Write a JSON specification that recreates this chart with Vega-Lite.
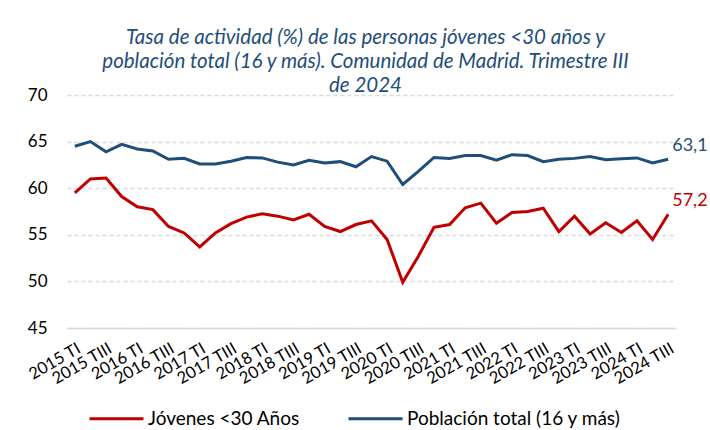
{
  "$schema": "https://vega.github.io/schema/vega-lite/v6.json",
  "autosize": "none",
  "width": 609,
  "height": 233,
  "padding": {"left": 67, "top": 95, "right": 34, "bottom": 102},
  "background": "white",
  "config": {
    "font": "Lato",
    "view": {"stroke": null},
    "locale": {"number": {"decimal": ",", "thousands": ".", "grouping": [3], "currency": ["", " €"]}}
  },
  "title": {
    "text": ["Tasa de actividad (%) de las personas jóvenes <30 años y", "población total (16 y más). Comunidad de Madrid. Trimestre III", "de 2024"],
    "fontStyle": "italic",
    "fontWeight": "normal",
    "fontSize": 20.5,
    "color": "#1F4E79",
    "anchor": "middle",
    "lineHeight": 24,
    "offset": -10,
    "dx": -6
  },
  "data": {
    "values": [
      {"t": "2015 TI", "Jóvenes <30 Años": 59.5, "Población total (16 y más)": 64.5},
      {"t": "2015 TII", "Jóvenes <30 Años": 61.0, "Población total (16 y más)": 65.0},
      {"t": "2015 TIII", "Jóvenes <30 Años": 61.1, "Población total (16 y más)": 63.9},
      {"t": "2015 TIV", "Jóvenes <30 Años": 59.1, "Población total (16 y más)": 64.7},
      {"t": "2016 TI", "Jóvenes <30 Años": 58.0, "Población total (16 y más)": 64.2},
      {"t": "2016 TII", "Jóvenes <30 Años": 57.7, "Población total (16 y más)": 64.0},
      {"t": "2016 TIII", "Jóvenes <30 Años": 55.9, "Población total (16 y más)": 63.1},
      {"t": "2016 TIV", "Jóvenes <30 Años": 55.2, "Población total (16 y más)": 63.2},
      {"t": "2017 TI", "Jóvenes <30 Años": 53.7, "Población total (16 y más)": 62.6},
      {"t": "2017 TII", "Jóvenes <30 Años": 55.2, "Población total (16 y más)": 62.6},
      {"t": "2017 TIII", "Jóvenes <30 Años": 56.2, "Población total (16 y más)": 62.9},
      {"t": "2017 TIV", "Jóvenes <30 Años": 56.9, "Población total (16 y más)": 63.3},
      {"t": "2018 TI", "Jóvenes <30 Años": 57.25, "Población total (16 y más)": 63.25},
      {"t": "2018 TII", "Jóvenes <30 Años": 57.0, "Población total (16 y más)": 62.8},
      {"t": "2018 TIII", "Jóvenes <30 Años": 56.6, "Población total (16 y más)": 62.5},
      {"t": "2018 TIV", "Jóvenes <30 Años": 57.2, "Población total (16 y más)": 63.0},
      {"t": "2019 TI", "Jóvenes <30 Años": 55.9, "Población total (16 y más)": 62.7},
      {"t": "2019 TII", "Jóvenes <30 Años": 55.35, "Población total (16 y más)": 62.85},
      {"t": "2019 TIII", "Jóvenes <30 Años": 56.1, "Población total (16 y más)": 62.3},
      {"t": "2019 TIV", "Jóvenes <30 Años": 56.5, "Población total (16 y más)": 63.4},
      {"t": "2020 TI", "Jóvenes <30 Años": 54.5, "Población total (16 y más)": 62.9},
      {"t": "2020 TII", "Jóvenes <30 Años": 49.9, "Población total (16 y más)": 60.4},
      {"t": "2020 TIII", "Jóvenes <30 Años": 52.7, "Población total (16 y más)": 61.8},
      {"t": "2020 TIV", "Jóvenes <30 Años": 55.8, "Población total (16 y más)": 63.3},
      {"t": "2021 TI", "Jóvenes <30 Años": 56.1, "Población total (16 y más)": 63.2},
      {"t": "2021 TII", "Jóvenes <30 Años": 57.9, "Población total (16 y más)": 63.5},
      {"t": "2021 TIII", "Jóvenes <30 Años": 58.4, "Población total (16 y más)": 63.5},
      {"t": "2021 TIV", "Jóvenes <30 Años": 56.25, "Población total (16 y más)": 63.0},
      {"t": "2022 TI", "Jóvenes <30 Años": 57.4, "Población total (16 y más)": 63.6},
      {"t": "2022 TII", "Jóvenes <30 Años": 57.5, "Población total (16 y más)": 63.5},
      {"t": "2022 TIII", "Jóvenes <30 Años": 57.85, "Población total (16 y más)": 62.85},
      {"t": "2022 TIV", "Jóvenes <30 Años": 55.35, "Población total (16 y más)": 63.1},
      {"t": "2023 TI", "Jóvenes <30 Años": 57.0, "Población total (16 y más)": 63.2},
      {"t": "2023 TII", "Jóvenes <30 Años": 55.1, "Población total (16 y más)": 63.4},
      {"t": "2023 TIII", "Jóvenes <30 Años": 56.3, "Población total (16 y más)": 63.05},
      {"t": "2023 TIV", "Jóvenes <30 Años": 55.25, "Población total (16 y más)": 63.15},
      {"t": "2024 TI", "Jóvenes <30 Años": 56.5, "Población total (16 y más)": 63.25},
      {"t": "2024 TII", "Jóvenes <30 Años": 54.5, "Población total (16 y más)": 62.7},
      {"t": "2024 TIII", "Jóvenes <30 Años": 57.2, "Población total (16 y más)": 63.1}
    ]
  },
  "transform": [
    {"fold": ["Jóvenes <30 Años", "Población total (16 y más)"], "as": ["serie", "v"]}
  ],
  "encoding": {
    "x": {
      "field": "t",
      "type": "ordinal",
      "sort": null,
      "scale": {"type": "point", "padding": 0.5},
      "axis": {
        "title": null,
        "values": ["2015 TI", "2015 TIII", "2016 TI", "2016 TIII", "2017 TI", "2017 TIII", "2018 TI", "2018 TIII", "2019 TI", "2019 TIII", "2020 TI", "2020 TIII", "2021 TI", "2021 TIII", "2022 TI", "2022 TIII", "2023 TI", "2023 TIII", "2024 TI", "2024 TIII"],
        "labelAngle": -30,
        "labelAlign": "right",
        "labelBaseline": "top",
        "labelFontSize": 16.5,
        "labelColor": "#000000",
        "labelPadding": 12,
        "ticks": false,
        "domainColor": "#D9D9D9",
        "domainWidth": 1.5,
        "grid": false,
        "labelOverlap": false
      }
    },
    "y": {
      "field": "v",
      "type": "quantitative",
      "scale": {"domain": [45, 70], "nice": false, "zero": false},
      "axis": {
        "title": null,
        "values": [45, 50, 55, 60, 65, 70],
        "labelFontSize": 17,
        "labelColor": "#000000",
        "labelPadding": 20,
        "ticks": false,
        "domain": false,
        "gridColor": "#D9D9D9",
        "gridDash": [4, 3],
        "gridWidth": 1.3
      }
    },
    "color": {
      "field": "serie",
      "type": "nominal",
      "scale": {"domain": ["Jóvenes <30 Años", "Población total (16 y más)"], "range": ["#C00000", "#1F4E79"]},
      "legend": {
        "title": null,
        "orient": "none",
        "direction": "horizontal",
        "legendX": 21,
        "legendY": 295,
        "symbolType": "stroke",
        "symbolSize": 2916,
        "symbolStrokeWidth": 3,
        "labelFontSize": 19,
        "labelColor": "#000000",
        "labelOffset": 3,
        "columnPadding": 42,
        "labelLimit": 400
      }
    }
  },
  "layer": [
    {"mark": {"type": "line", "strokeWidth": 3, "strokeJoin": "miter"}},
    {
      "transform": [{"filter": "datum.t === '2024 TIII'"}],
      "mark": {"type": "text", "align": "left", "baseline": "middle", "dx": 4, "dy": -13, "fontSize": 18},
      "encoding": {
        "text": {"field": "v", "type": "quantitative", "format": ".1f"}
      }
    }
  ]
}
